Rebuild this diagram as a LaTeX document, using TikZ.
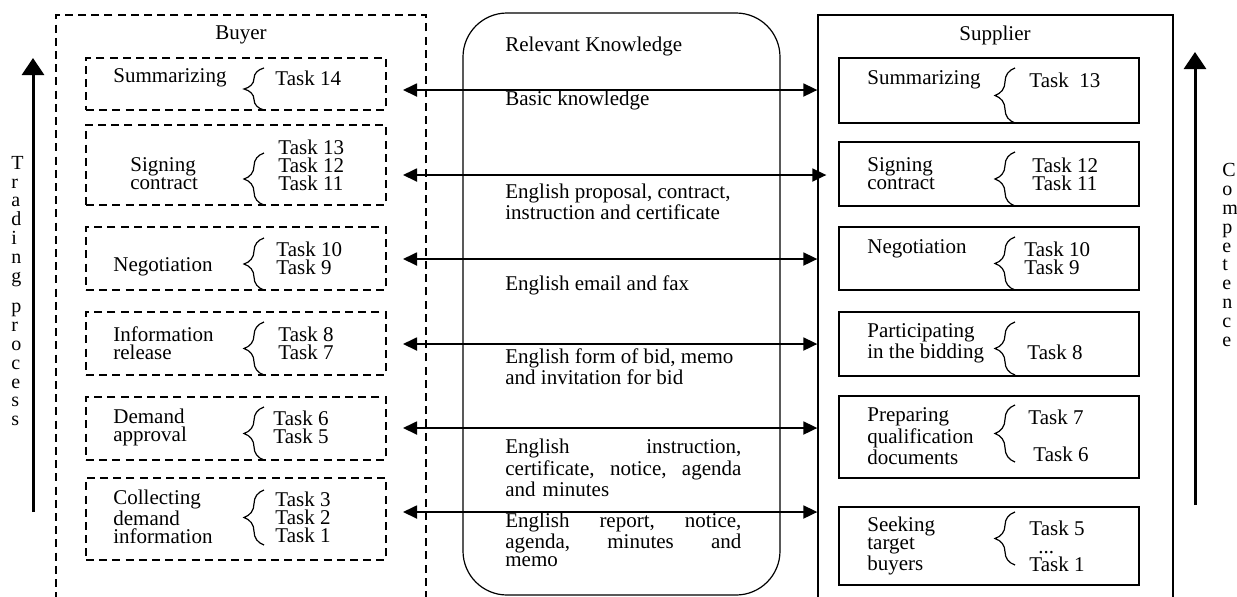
\documentclass[tikz,border=0pt]{standalone}
\usepackage{fontspec}
\setmainfont{Liberation Serif}
\usetikzlibrary{arrows.meta,fit,calc,decorations.pathreplacing}

\begin{document}
\begin{tikzpicture}[
  x=0.5pt,y=-0.5pt,
  font=\fontsize{10.5}{9}\selectfont,
  >=Triangle,
  dashbox/.style={draw,dashed,dash pattern=on 4pt off 2.6pt,line width=0.65pt,inner sep=0pt},
  solidbox/.style={draw,line width=0.65pt,inner sep=0pt},
  knowbox/.style={draw,rounded corners=22pt,line width=0.6pt,inner sep=0pt},
  txt/.style={anchor=west,inner sep=0pt,align=left},
  justtxt/.style={anchor=west,inner sep=0pt,align=left,text width=118pt},
  vtxt/.style={anchor=west,inner sep=0pt,align=left,font=\fontsize{10}{9.4}\selectfont},
  brc/.style={decorate,decoration={brace,amplitude=10pt},line width=0.6pt},
  dblarrow/.style={{Triangle[length=7pt,width=6.5pt]}-{Triangle[length=7pt,width=6.5pt]},line width=0.9pt},
  uparrow/.style={-{Triangle[length=8.5pt,width=11pt]},line width=1.5pt}
]
\useasboundingbox (0,0) rectangle (1237,596);

% -------------------------------------------------------------------------
% Three columns: buyer, relevant knowledge, supplier.
% -------------------------------------------------------------------------
\node[dashbox,line width=0.8pt,fit={(56,15) (426,625)}] (buyer) {};
\node[knowbox,fit={(463,13) (780,595)}] (know) {};
\node[solidbox,fit={(818,15) (1173,625)}] (sup) {};

\node (buyertitle) at (241,35) {Buyer};
\node[txt] (knowtitle) at (505,46) {Relevant Knowledge};
\node (suptitle) at (995,35) {Supplier};

% Stage boxes of both sides.
\foreach \n/\ya/\yb in {1/58/110,2/125/205,3/227/290,4/312/375,5/397/460,6/478/560}
  {\node[dashbox,fit={(86,\ya) (386,\yb)}] (b\n) {};}
\foreach \n/\ya/\yb in {1/58/123,2/142/206,3/227/290,4/312/376,5/396/478,6/507/585}
  {\node[solidbox,fit={(839,\ya) (1139,\yb)}] (s\n) {};}

% Braces grouping the tasks.
\foreach \ya/\yb in {68/110,153/205,238/290,322/375,407/460,490/545}
  {\draw[brc] (264,\yb) -- (264,\ya);}
\foreach \ya/\yb in {68/123,152/206,237/290,322/375,405/462,512/565}
  {\draw[brc] (1015,\yb) -- (1015,\ya);}

% -------------------------------------------------------------------------
% Buyer stages.
% -------------------------------------------------------------------------
\node[txt] (bl1) at (113,78) {Summarizing};
\node[txt] (bl2) at (130,174) {Signing\\contract};
\node[txt] (bl3) at (113,267) {Negotiation};
\node[txt] (bl4) at (113,343) {Information\\release};
\node[txt] (bl5) at (113,427) {Demand\\approval};
\node[txt] (bl6) at (113,517) {Collecting\\demand\\information};

\node[txt] (bt1) at (275,78) {Task 14};
\node[txt] (bt2) at (278,165) {Task 13\\Task 12\\Task 11};
\node[txt] (bt3) at (276,258) {Task 10\\Task 9};
\node[txt] (bt4) at (278,343) {Task 8\\Task 7};
\node[txt] (bt5) at (273,427) {Task 6\\Task 5};
\node[txt] (bt6) at (275,517) {Task 3\\Task 2\\Task 1};

% -------------------------------------------------------------------------
% Knowledge passed between the two sides.
% -------------------------------------------------------------------------
\node[txt] (k1) at (505,100) {Basic knowledge};
\node[txt] (k2) at (505,202) {English proposal, contract,\\instruction and certificate};
\node[txt] (k3) at (505,285) {English email and fax};
\node[txt] (k4) at (505,367) {English form of bid, memo\\and invitation for bid};
\node[justtxt] (k5) at (505,468)
  {English\hfill instruction,\\certificate,\hfill notice,\hfill agenda\\and minutes};
\node[justtxt] (k6) at (505,540)
  {English\hfill report,\hfill notice,\\agenda,\hfill minutes\hfill and\\memo};

% -------------------------------------------------------------------------
% Supplier stages.
% -------------------------------------------------------------------------
\node[txt] (sl1) at (867,80) {Summarizing};
\node[txt] (sl2) at (867,174) {Signing\\contract};
\node[txt] (sl3) at (867,249) {Negotiation};
\node[txt] (sl4) at (867,343) {Participating\\in the bidding};
\node[txt] (sl5) at (867,436) {Preparing\\qualification\\documents};
\node[txt] (sl6) at (867,546) {Seeking\\target\\buyers};

\node[txt] (st1) at (1029,80) {Task\ \ 13};
\node[txt] (st2) at (1032,174) {Task 12\\Task 11};
\node[txt] (st3) at (1024,258) {Task 10\\Task 9};
\node[txt] (st4) at (1027,352) {Task 8};
\node[txt] (st5a) at (1028,417) {Task 7};
\node[txt] (st5b) at (1033,454) {Task 6};
\node[txt] (st6) at (1029,546) {Task 5\\\hspace{4.5pt}...\\Task 1};

% Exchange arrows across the knowledge column.
\foreach \r/\y/\dx in {1/90/0,2/175/9,3/259/0,4/344/0,5/428/0,6/512/0}
  {\coordinate (a\r) at (403,\y);
   \draw[dblarrow] (a\r) -- ($(a\r -| sup.west)+(\dx,0)$);}

% -------------------------------------------------------------------------
% Side axes.
% -------------------------------------------------------------------------
\coordinate (tpbot) at (33,512);
\coordinate (tptop) at (33,58);
\draw[uparrow] (tpbot) -- (tptop);
\node[vtxt] (trading) at (11,291) {T\\r\\a\\d\\i\\n\\g\\[6pt]p\\r\\o\\c\\e\\s\\s};

\coordinate (cpbot) at (1195,505);
\coordinate (cptop) at (1195,52);
\draw[uparrow] (cpbot) -- (cptop);
\node[vtxt] (competence) at (1222,255) {C\\o\\m\\p\\e\\t\\e\\n\\c\\e};
\end{tikzpicture}
\end{document}
